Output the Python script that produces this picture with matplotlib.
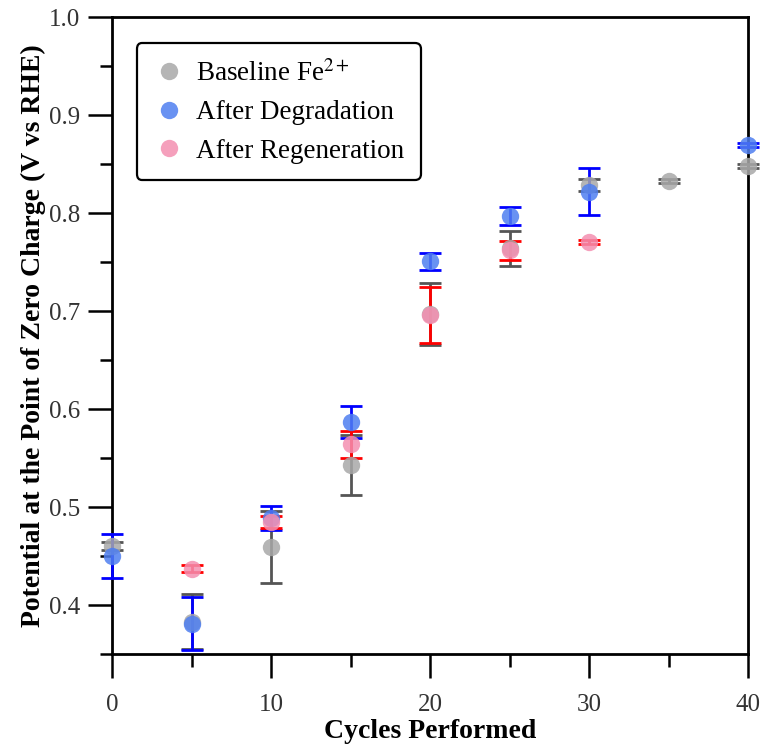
import matplotlib
matplotlib.use("Agg")
import matplotlib.pyplot as plt
from matplotlib.ticker import MultipleLocator

plt.rcParams['font.family'] = ['Liberation Serif', 'DejaVu Serif']
plt.rcParams['mathtext.fontset'] = 'stix'

# Baseline Fe2+
base_x = [0, 5, 10, 15, 20, 25, 30, 35, 40]
base_y = [0.460, 0.383, 0.459, 0.543, 0.697, 0.764, 0.829, 0.833, 0.848]
base_err = [0.004, 0.028, 0.037, 0.031, 0.032, 0.018, 0.006, 0.002, 0.002]

# After degradation
deg_x = [0, 5, 10, 15, 20, 25, 30, 40]
deg_y = [0.450, 0.381, 0.489, 0.587, 0.751, 0.797, 0.822, 0.870]
deg_err = [0.022, 0.027, 0.0125, 0.016, 0.0085, 0.009, 0.024, 0.002]

# After regeneration
reg_x = [5, 10, 15, 20, 25, 30]
reg_y = [0.437, 0.485, 0.564, 0.696, 0.762, 0.771]
reg_err = [0.0035, 0.006, 0.014, 0.029, 0.0095, 0.002]

fig = plt.figure(figsize=(7.64, 7.5), dpi=100)
ax = fig.add_axes([0.1466, 0.128, 0.8325, 0.849])

series = [
    (base_x, base_y, base_err, '#a8a8a8', '#555555', 'Baseline Fe$^{2+}$'),
    (deg_x, deg_y, deg_err, '#4f7ff0', '#0000ff', 'After Degradation'),
    (reg_x, reg_y, reg_err, '#f48fb1', '#ff0000', 'After Regeneration'),
]

handles = []
for xs, ys, es, mc, ec, lab in series:
    ax.errorbar(xs, ys, yerr=es, fmt='none', ecolor=ec, elinewidth=2,
                capsize=8, capthick=2, clip_on=False, zorder=3)
    h = ax.plot(xs, ys, 'o', color=mc, markersize=12.5, alpha=0.85,
                markeredgewidth=0, label=lab, clip_on=False, zorder=4)[0]
    handles.append(h)

ax.set_xlim(0, 40)
ax.set_ylim(0.35, 1.0)
ax.xaxis.set_major_locator(MultipleLocator(10))
ax.xaxis.set_minor_locator(MultipleLocator(5))
ax.yaxis.set_minor_locator(MultipleLocator(0.05))
ax.set_yticks([0.4, 0.5, 0.6, 0.7, 0.8, 0.9, 1.0])
ax.set_yticklabels(['0.4', '0.5', '0.6', '0.7', '0.8', '0.9', '1.0'])

ax.tick_params(which='major', direction='out', length=17, width=1.8,
               labelsize=18, labelcolor='#333333', pad=6)
ax.tick_params(which='minor', direction='out', length=9, width=1.8)
ax.tick_params(axis='x', which='major', pad=12)
for s in ax.spines.values():
    s.set_linewidth(2)

ax.set_xlabel('Cycles Performed', fontsize=20, fontweight='bold', labelpad=2)
ax.set_ylabel('Potential at the Point of Zero Charge (V vs RHE)',
              fontsize=20, fontweight='bold', labelpad=2)

leg = ax.legend(handles=handles, loc='upper left',
                bbox_to_anchor=(0.039, 0.959), fontsize=19.5, frameon=True,
                fancybox=True, edgecolor='black', handletextpad=0.4,
                borderpad=0.6, labelspacing=0.5, handlelength=1.2,
                borderaxespad=0, markerscale=1.0)
leg.get_frame().set_linewidth(1.6)
leg.get_frame().set_alpha(1)

fig.savefig('out.png', dpi=100)
